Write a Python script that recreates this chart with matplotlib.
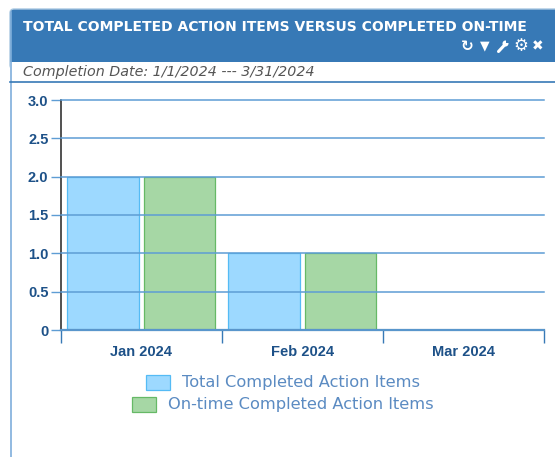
import matplotlib.pyplot as plt
from matplotlib.patches import FancyBboxPatch, Rectangle, Circle

months = ['Jan 2024', 'Feb 2024', 'Mar 2024']
total_completed = [2, 1, 0]
ontime_completed = [2, 1, 0]
y_ticks = [0, 0.5, 1.0, 1.5, 2.0, 2.5, 3.0]
y_labels = ['0', '0.5', '1.0', '1.5', '2.0', '2.5', '3.0']

W, H = 555, 457
BLUE = '#3779B6'
LINE = '#5E9DD4'
DARK = '#1D5188'

fig = plt.figure(figsize=(W / 100, H / 100), dpi=100)

# page furniture in pixel coordinates
bg = fig.add_axes([0, 0, 1, 1])
bg.set_xlim(0, W)
bg.set_ylim(H, 0)
bg.axis('off')

bg.add_patch(FancyBboxPatch((10, 9), W + 20, 60, boxstyle='round,pad=0,rounding_size=4',
                            fc=BLUE, ec='#A9C8E2', lw=1))
bg.add_patch(Rectangle((10, 62), W, H, fc='white', ec='none'))
bg.plot([10.5, 10.5], [12, H], color='#7FAEDB', lw=1.2)
bg.plot([10, W], [82, 82], color=BLUE, lw=1.2)

bg.text(23, 27, 'TOTAL COMPLETED ACTION ITEMS VERSUS COMPLETED ON-TIME', color='white',
        fontsize=9.98, fontweight='bold', family='DejaVu Sans', va='center')
bg.text(23, 72, 'Completion Date: 1/1/2024 --- 3/31/2024', color='#555555', fontsize=10.3,
        style='italic', family='DejaVu Sans', va='center')

# toolbar icons
icons = [(467, '\u21bb', 11), (485, '\u25bc', 9), (521, '\u2699', 12), (538, '\u2716', 10)]
for x, glyph, size in icons:
    bg.text(x, 46, glyph, color='white', fontsize=size, fontweight='bold', family='DejaVu Sans',
            ha='center', va='center')
# wrench has no glyph in the installed fonts
bg.plot([498.5, 505], [51.5, 44.5], color='white', lw=2.2, solid_capstyle='round')
bg.add_patch(Circle((505.5, 43.5), 3, fc='white', ec='none'))
bg.add_patch(Rectangle((505.5, 39.5), 3, 3.5, fc=BLUE, ec='none'))

# legend rows are centred on their own, as in the original
bg.add_patch(Rectangle((146, 375), 24, 15, fc='#9DD9FF', ec='#55BBF5', lw=0.9))
bg.text(182, 382.5, 'Total Completed Action Items', color='#5B8BC2', fontsize=11.7,
        family='DejaVu Sans', va='center')
bg.add_patch(Rectangle((132, 397), 24, 15, fc='#A6D7A5', ec='#66B966', lw=0.9))
bg.text(168, 404.5, 'On-time Completed Action Items', color='#5B8BC2', fontsize=11.7,
        family='DejaVu Sans', va='center')

# chart
ax = fig.add_axes([61 / W, 1 - 330 / H, 483 / W, 230 / H])
ax.patch.set_alpha(0)
positions = range(len(months))
for i in positions:
    ax.bar(i + 0.26, total_completed[i], width=0.447, color='#9DD9FF', edgecolor='#55BBF5', lw=0.9, zorder=2)
    ax.bar(i + 0.736, ontime_completed[i], width=0.447, color='#A6D7A5', edgecolor='#66B966', lw=0.9, zorder=2)

# grid lines run over the bars
for y in y_ticks:
    ax.axhline(y, color=LINE, lw=1.1, zorder=3, clip_on=False)

ax.set_xlim(0, 3)
ax.set_ylim(0, 3)
ax.set_yticks(y_ticks)
ax.set_yticklabels(y_labels, fontsize=10.5, fontweight='bold', family='Liberation Sans', color=DARK)
ax.set_xticks([0, 1, 2, 3])
ax.set_xticklabels([])
ax.set_xticks([0.5, 1.5, 2.5], minor=True)
ax.set_xticklabels(months, minor=True, fontsize=10.5, fontweight='bold', family='Liberation Sans', color=DARK)
ax.tick_params(axis='x', which='major', length=9, width=1, color=BLUE)
ax.tick_params(axis='x', which='minor', length=0, pad=11)
ax.tick_params(axis='y', length=7, width=1, color=LINE, pad=2)

for side in ['top', 'right']:
    ax.spines[side].set_visible(False)
ax.spines['left'].set_color('#222222')
ax.spines['left'].set_linewidth(1.1)
ax.spines['bottom'].set_color('#4B82B5')
ax.spines['bottom'].set_linewidth(1.6)

fig.savefig('out.png', dpi=100)
